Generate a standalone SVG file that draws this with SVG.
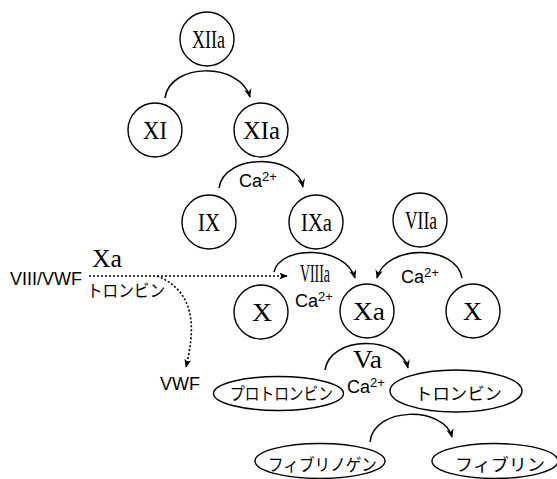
<svg xmlns="http://www.w3.org/2000/svg" width="557" height="479" viewBox="0 0 557 479">
<style>
.n{fill:#fff;stroke:#000;stroke-width:1.4}
.rn{font-family:"Liberation Serif",serif;font-size:25px;fill:#000}
.lab{font-family:"Liberation Sans",Arial,sans-serif;font-size:18px;fill:#000}
.sup{font-size:13px}
.jp{font-family:"Noto Sans CJK JP","Noto Sans CJK SC",sans-serif;font-size:17px;fill:#000}
.arc{fill:none;stroke:#000;stroke-width:1.5;marker-end:url(#ah)}
.dot{fill:none;stroke:#000;stroke-width:1.6;stroke-dasharray:2 2;marker-end:url(#dh)}
</style>
<defs>
<marker id="ah" viewBox="0 0 12 10" refX="11" refY="5" markerWidth="9" markerHeight="8" markerUnits="userSpaceOnUse" orient="auto">
<path d="M0,0 L12,5 L0,10 L4,5 z" fill="#000"/>
</marker>
<marker id="dh" viewBox="0 0 12 10" refX="11" refY="5" markerWidth="9" markerHeight="7" markerUnits="userSpaceOnUse" orient="auto">
<path d="M0,0 L12,5 L0,10 L3,5 z" fill="#000"/>
</marker>
</defs>

<g id="connectors">
<path class="arc" d="M165,98 C170,62 240,62 250,97"/>
<path class="arc" d="M219,188 C224,153 296,153 303,187"/>
<path class="arc" d="M274,272 C280,245 345,245 355,278"/>
<path class="arc" d="M462,278 C456,244 386,244 377,278"/>
<path class="arc" d="M325,370 C330,335 400,335 408,368"/>
<path class="arc" d="M370,442 C374,406 444,406 452,437"/>
<path class="dot" d="M89,276 L287,276"/>
<path class="dot" d="M157,276 C197,292 195,330 186,367"/>
</g>

<g id="labels">
<text class="lab" x="239" y="187">Ca<tspan class="sup" dy="-6">2+</tspan></text>
<text class="lab" x="295" y="307">Ca<tspan class="sup" dy="-6">2+</tspan></text>
<text class="lab" x="401" y="283">Ca<tspan class="sup" dy="-6">2+</tspan></text>
<text class="lab" x="347" y="393">Ca<tspan class="sup" dy="-6">2+</tspan></text>
<text class="rn" x="92" y="267" textLength="30" lengthAdjust="spacingAndGlyphs">Xa</text>
<text class="rn" x="300" y="282" textLength="30" lengthAdjust="spacingAndGlyphs">VIIIa</text>
<text class="rn" x="353" y="368" textLength="29" lengthAdjust="spacingAndGlyphs">Va</text>
<text class="lab" x="10" y="285" textLength="72" lengthAdjust="spacingAndGlyphs">VIII/VWF</text>
<text class="jp" x="87" y="297" textLength="78" lengthAdjust="spacingAndGlyphs">トロンビン</text>
<text class="lab" x="160" y="390">VWF</text>
</g>

<g id="n-XIIa"><circle class="n" cx="207" cy="39" r="27"/><text class="rn" x="192" y="48" textLength="33" lengthAdjust="spacingAndGlyphs">XIIa</text></g>
<g id="n-XI"><circle class="n" cx="155" cy="130" r="27"/><text class="rn" x="143" y="139" textLength="24" lengthAdjust="spacingAndGlyphs">XI</text></g>
<g id="n-XIa"><circle class="n" cx="261" cy="130" r="27"/><text class="rn" x="243" y="139" textLength="37" lengthAdjust="spacingAndGlyphs">XIa</text></g>
<g id="n-IX"><circle class="n" cx="209" cy="222" r="27"/><text class="rn" x="198" y="231" textLength="22" lengthAdjust="spacingAndGlyphs">IX</text></g>
<g id="n-IXa"><circle class="n" cx="316" cy="222" r="27"/><text class="rn" x="301" y="231" textLength="31" lengthAdjust="spacingAndGlyphs">IXa</text></g>
<g id="n-VIIa"><circle class="n" cx="420" cy="220" r="27"/><text class="rn" x="405" y="229" textLength="32" lengthAdjust="spacingAndGlyphs">VIIa</text></g>
<g id="n-X1"><circle class="n" cx="261" cy="312" r="27"/><text class="rn" x="252" y="321" textLength="20" lengthAdjust="spacingAndGlyphs">X</text></g>
<g id="n-Xa"><circle class="n" cx="367" cy="311" r="27"/><text class="rn" x="353" y="320" textLength="32" lengthAdjust="spacingAndGlyphs">Xa</text></g>
<g id="n-X2"><circle class="n" cx="473" cy="311" r="27"/><text class="rn" x="463" y="320" textLength="19" lengthAdjust="spacingAndGlyphs">X</text></g>
<g id="n-prothrombin"><ellipse class="n" cx="278.5" cy="393.5" rx="65" ry="17"/><text class="jp" x="230" y="400" textLength="103" lengthAdjust="spacingAndGlyphs">プロトロンビン</text></g>
<g id="n-thrombin"><ellipse class="n" cx="456" cy="391" rx="66" ry="21"/><text class="jp" x="415" y="400" font-size="19" textLength="87" lengthAdjust="spacingAndGlyphs">トロンビン</text></g>
<g id="n-fibrinogen"><ellipse class="n" cx="320" cy="461" rx="65" ry="17.5"/><text class="jp" x="268" y="471" textLength="109" lengthAdjust="spacingAndGlyphs">フィブリノゲン</text></g>
<g id="n-fibrin"><ellipse class="n" cx="495" cy="461" rx="63" ry="17.5"/><text class="jp" x="455" y="471" font-size="19" textLength="90" lengthAdjust="spacingAndGlyphs">フィブリン</text></g>
</svg>
